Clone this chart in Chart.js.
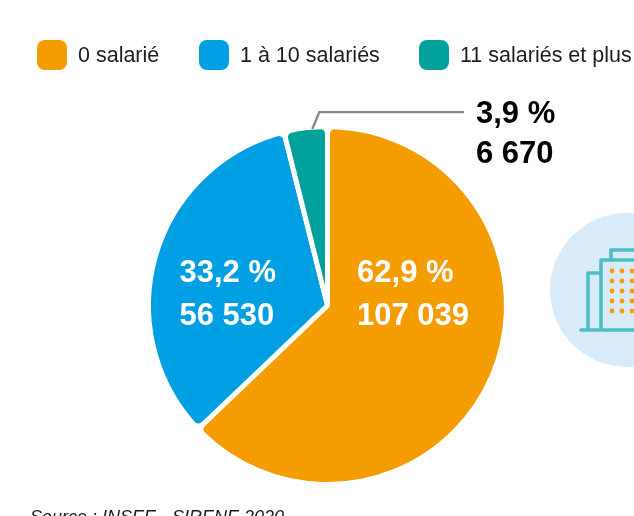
<!DOCTYPE html>
<html lang="fr"><head><meta charset="utf-8">
<style>html,body{margin:0;padding:0;background:#fff;overflow:hidden}#w{position:relative;width:634px;height:516px}</style>
<script src="https://cdn.jsdelivr.net/npm/chart.js@4"></script>
</head><body><div id="w"><canvas id="c" width="634" height="516"></canvas>
<div style="position:absolute;left:0;top:0;width:634px;height:90px;overflow:hidden;font:21.5px 'Liberation Sans',Arial,sans-serif;color:#1d1d1b" id="lg"></div></div>
<script>
const categories = ['0 salarié', '1 à 10 salariés', '11 salariés et plus'];
const values = [107039, 56530, 6670];
const percentLabels = ['62,9 %', '33,2 %', '3,9 %'];
const countLabels = ['107 039', '56 530', '6 670'];
const colors = ['#f59c00', '#009fe3', '#00a19a'];
const sourceText = 'Source : INSEE - SIRENE 2020';
const FONT = '"Liberation Sans", Arial, sans-serif';

const decor = {
  id: 'decor',
  beforeDraw(chart) {
    const g = chart.ctx;
    g.save();
    g.fillStyle = '#d9ebf9';
    g.beginPath(); g.arc(627, 290, 77, 0, Math.PI * 2); g.fill();
    g.strokeStyle = '#4dbdc6'; g.lineWidth = 3.6; g.lineJoin = 'round'; g.lineCap = 'round';
    g.beginPath();
    g.moveTo(581, 330); g.lineTo(640, 330);
    g.moveTo(588, 330); g.lineTo(588, 273); g.lineTo(601, 273);
    g.moveTo(601, 330); g.lineTo(601, 260); g.lineTo(640, 260);
    g.moveTo(611, 260); g.lineTo(611, 250); g.lineTo(640, 250);
    g.stroke();
    g.fillStyle = '#f59c00';
    for (const x of [612, 622, 632]) for (const y of [271, 281, 291, 301, 311]) {
      g.beginPath(); g.arc(x, y, 2.4, 0, Math.PI * 2); g.fill();
    }
    g.restore();
  },
  afterDraw(chart) {
    const g = chart.ctx, arcs = chart.getDatasetMeta(0).data;
    const cx = arcs[0].x, cy = arcs[0].y, R = arcs[0].outerRadius;
    g.save();
    g.textAlign = 'left'; g.textBaseline = 'middle';
    g.font = 'bold 31px ' + FONT;
    g.fillStyle = '#fff';
    g.fillText(percentLabels[0], cx + 0.165 * R, cy - 0.18 * R);
    g.fillText(countLabels[0], cx + 0.165 * R, cy + 0.06 * R);
    g.fillText(percentLabels[1], cx - 0.827 * R, cy - 0.18 * R);
    g.fillText(countLabels[1], cx - 0.827 * R, cy + 0.06 * R);
    // callout of the small slice
    const a = arcs[2].startAngle + 0.65 * (arcs[2].endAngle - arcs[2].startAngle);
    const ax = cx + Math.cos(a) * (R - 2), ay = cy + Math.sin(a) * (R - 2);
    g.strokeStyle = '#878787'; g.lineWidth = 2.4;
    g.beginPath(); g.moveTo(ax, ay); g.lineTo(ax + 7, ay - 17); g.lineTo(464, ay - 17); g.stroke();
    g.fillStyle = '#000';
    g.fillText(percentLabels[2], 476, 114);
    g.fillText(countLabels[2], 476, 154);
    g.fillStyle = '#1d1d1b';
    g.font = 'italic 18px ' + FONT;
    g.textBaseline = 'alphabetic';
    g.fillText(sourceText, 30, 523);
    g.restore();
  }
};

new Chart(document.getElementById('c'), {
  type: 'pie',
  data: { labels: categories, datasets: [{ data: values, backgroundColor: colors, borderColor: '#fff', borderWidth: 5, borderRadius: 7, hoverOffset: 0 }] },
  plugins: [decor],
  options: {
    responsive: false, animation: false,
    layout: { padding: { top: 124, bottom: 29, left: 21, right: 0 } },
    plugins: { tooltip: { enabled: false }, legend: { display: false } }
  },
});

const lg = document.getElementById('lg');
const boxX = [37, 199, 419];
categories.forEach((t, i) => {
  const b = document.createElement('div');
  b.style.cssText = `position:absolute;left:${boxX[i]}px;top:40px;width:30px;height:30px;border-radius:8px;background:${colors[i]}`;
  const s = document.createElement('div');
  s.style.cssText = `position:absolute;left:${boxX[i] + 41}px;top:43px;line-height:24px;white-space:nowrap`;
  s.textContent = t;
  lg.append(b, s);
});
</script>
</body></html>
